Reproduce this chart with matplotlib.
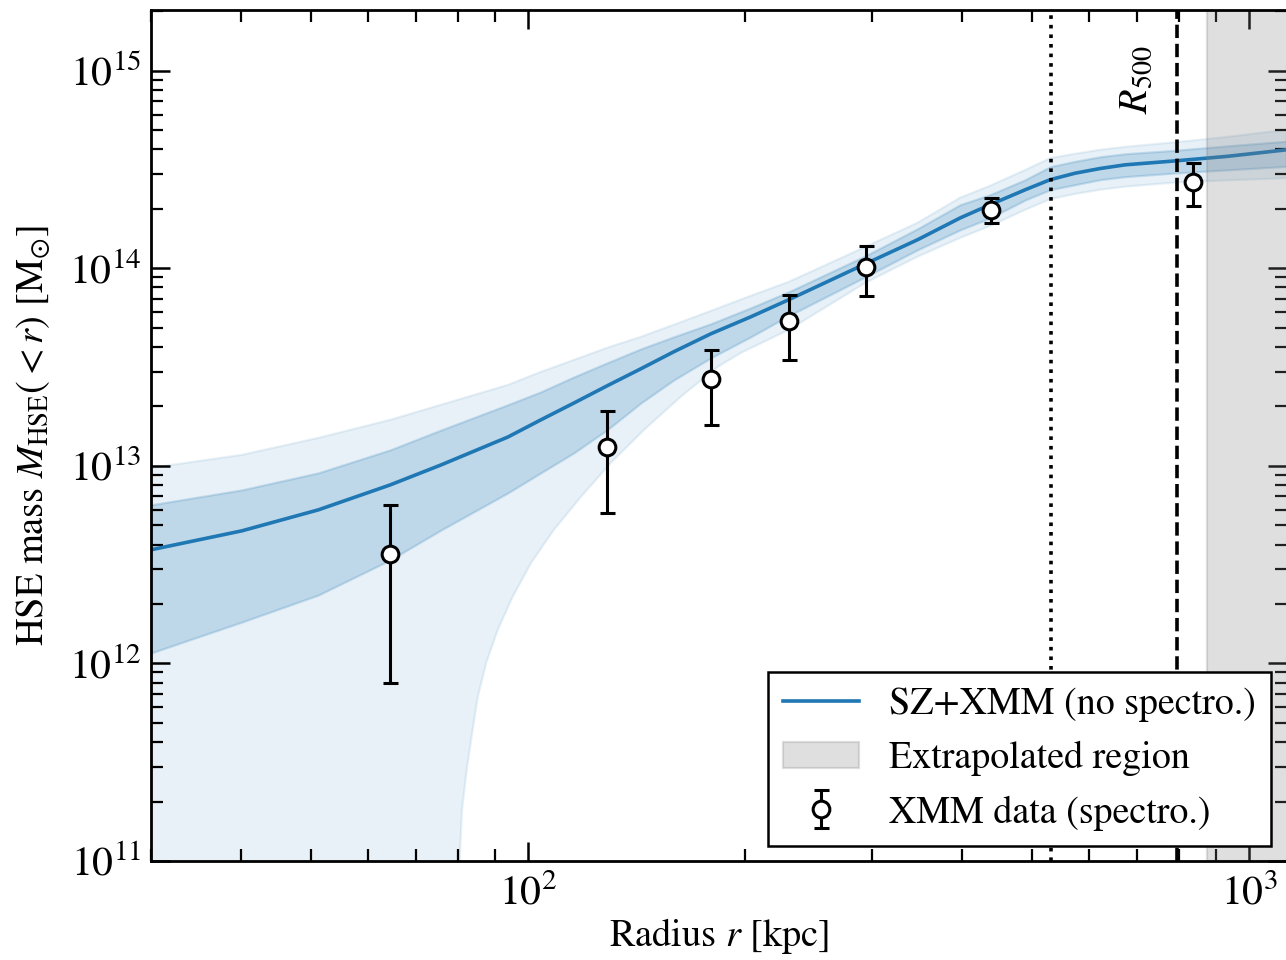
import numpy as np
import matplotlib
matplotlib.use("Agg")
import matplotlib.pyplot as plt
from matplotlib.ticker import NullFormatter, LogLocator

# --- model profile (SZ+XMM, no spectroscopy): radius [kpc] and enclosed HSE mass [Msun]
r_model = [30, 40.1, 51.2, 64.4, 75.8, 93.8, 104.2, 115.8, 128.7, 143.4, 159.3, 179.3, 203.7,
           229.9, 293.9, 346.9, 397.8, 437.8, 489.7, 530.2, 574.1, 621.8, 673.4, 792.6,
           935.2, 1128]
m_median = [3.76e12, 4.69e12, 5.99e12, 8.01e12, 1.012e13, 1.40e13, 1.71e13, 2.08e13, 2.54e13,
            3.10e13, 3.78e13, 4.66e13, 5.68e13, 6.93e13, 1.054e14, 1.394e14, 1.80e14, 2.10e14,
            2.50e14, 2.81e14, 3.03e14, 3.20e14, 3.34e14, 3.50e14, 3.69e14, 3.98e14]
m_1sig_hi = [6.35e12, 7.56e12, 9.22e12, 1.205e13, 1.52e13, 2.04e13, 2.37e13, 2.82e13, 3.32e13,
             3.91e13, 4.50e13, 5.24e13, 6.31e13, 7.60e13, 1.157e14, 1.585e14, 2.10e14, 2.36e14,
             2.81e14, 3.27e14, 3.48e14, 3.67e14, 3.80e14, 3.96e14, 4.17e14, 4.40e14]
m_1sig_lo = [1.13e12, 1.62e12, 2.22e12, 3.34e12, 4.74e12, 7.30e12, 9.22e12, 1.164e13, 1.52e13,
             2.08e13, 2.72e13, 3.52e13, 4.50e13, 5.75e13, 9.06e13, 1.24e14, 1.566e14, 1.80e14,
             2.22e14, 2.50e14, 2.65e14, 2.81e14, 2.91e14, 3.04e14, 3.15e14, 3.28e14]
m_2sig_hi = [9.77e12, 1.137e13, 1.386e13, 1.71e13, 2.04e13, 2.57e13, 2.99e13, 3.44e13, 3.96e13,
             4.50e13, 5.18e13, 6.09e13, 7.26e13, 8.54e13, 1.285e14, 1.70e14, 2.28e14, 2.62e14,
             3.15e14, 3.61e14, 3.80e14, 3.98e14, 4.12e14, 4.35e14, 4.63e14, 5.03e14]
# lower 2-sigma envelope: falls out of range below ~80 kpc
r_2sig_lo = [30, 80.0, 80.4, 81.0, 82.3, 83.8, 85.2, 87.5, 90.8, 95.2, 101.0, 108.6, 118.4,
             130.3, 144.8, 162.9, 183.3, 197.3, 229.9, 293.9, 346.9, 397.8, 437.8, 489.7,
             530.2, 574.1, 621.8, 673.4, 792.6, 935.2, 1128]
m_2sig_lo = [1e10, 1e10, 1.0e11, 1.81e11, 2.96e11, 4.61e11, 6.77e11, 1.006e12, 1.48e12, 2.17e12,
             3.23e12, 4.74e12, 6.97e12, 1.036e13, 1.52e13, 2.24e13, 3.17e13, 3.73e13, 4.88e13,
             8.45e13, 1.144e14, 1.427e14, 1.64e14, 1.98e14, 2.24e14, 2.38e14, 2.50e14, 2.59e14,
             2.72e14, 2.79e14, 2.86e14]

# --- XMM spectroscopic points
r_xmm = [64.4, 128.9, 179.3, 230.1, 293.9, 438.7, 835.6]
m_xmm = [3.57e12, 1.245e13, 2.75e13, 5.38e13, 1.01e14, 1.98e14, 2.72e14]
m_xmm_hi = [6.35e12, 1.90e13, 3.87e13, 7.34e13, 1.30e14, 2.28e14, 3.43e14]
m_xmm_lo = [7.94e11, 5.80e12, 1.61e13, 3.44e13, 7.20e13, 1.69e14, 2.06e14]

# --- characteristic radii [kpc]
r_inner = 532
r_500 = 794
r_extrap = 876

plt.rcParams.update({
    "font.family": "STIXGeneral",
    "mathtext.fontset": "stix",
    "font.size": 15,
    "axes.linewidth": 1.0,
    "xtick.direction": "in", "ytick.direction": "in",
    "xtick.top": True, "ytick.right": True,
    "xtick.major.size": 7.0, "ytick.major.size": 7.0,
    "xtick.minor.size": 4.3, "ytick.minor.size": 4.3,
    "xtick.major.width": 0.9, "ytick.major.width": 0.9,
    "xtick.minor.width": 0.8, "ytick.minor.width": 0.8,
})

blue = "#1f77b4"
fig = plt.figure(figsize=(6.43, 4.8), dpi=200)
ax = fig.add_axes([0.1174, 0.1031, 0.8831, 0.8865])

# 2-sigma envelope
ax.fill(np.concatenate([r_model, r_2sig_lo[::-1]]),
        np.concatenate([m_2sig_hi, m_2sig_lo[::-1]]),
        color=blue, alpha=0.1, lw=0.8, zorder=1)
# 1-sigma envelope
ax.fill_between(r_model, m_1sig_lo, m_1sig_hi, color=blue, alpha=0.2, lw=0.8, zorder=1.1)
ax.plot(r_model, m_median, color=blue, lw=1.3, zorder=2, label="SZ+XMM (no spectro.)")

ax.axvspan(r_extrap, 5000, color="gray", alpha=0.25, lw=0.8, zorder=2.5,
           label="Extrapolated region")

ax.axvline(r_inner, color="k", ls=":", lw=1.3, zorder=2.6)
ax.axvline(r_500, color="k", ls="--", lw=1.3, zorder=2.6)
ax.text(700, 9.0e14, r"$R_{500}$", rotation=90, ha="center", va="center", fontsize=14.5)

yerr = [np.array(m_xmm) - np.array(m_xmm_lo), np.array(m_xmm_hi) - np.array(m_xmm)]
ax.errorbar(r_xmm, m_xmm, yerr=yerr, fmt="o", color="k", mfc="white", mec="k",
            ms=6, mew=1.1, elinewidth=1.1, capsize=2.7, capthick=1.1, zorder=3,
            label="XMM data (spectro.)")

ax.set_xscale("log")
ax.set_yscale("log")
ax.set_xlim(30, 1128)
ax.set_ylim(1e11, 2.03e15)
ax.xaxis.set_minor_formatter(NullFormatter())
ax.yaxis.set_minor_locator(LogLocator(base=10, subs=np.arange(2, 10), numticks=20))
ax.yaxis.set_minor_formatter(NullFormatter())
ax.tick_params(axis="x", which="major", pad=5)

ax.set_xlabel(r"Radius $r$ [kpc]", fontsize=13.8, labelpad=1)
ax.set_ylabel(r"HSE mass $M_{\mathrm{HSE}}(<r)$ [$\mathrm{M}_{\odot}$]", fontsize=13.8,
              labelpad=6)

leg = ax.legend(loc="lower right", fancybox=False, framealpha=1, edgecolor="black",
                borderaxespad=0.4, fontsize=13.7)
leg.get_frame().set_linewidth(0.9)

fig.savefig("out.png", dpi=200)
